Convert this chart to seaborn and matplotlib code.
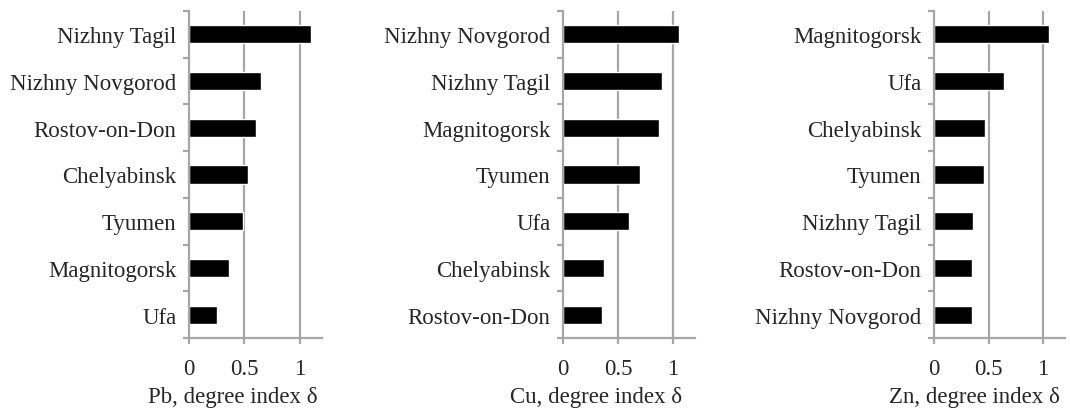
import numpy as np
import pandas as pd
import matplotlib
matplotlib.use("Agg")
import matplotlib.pyplot as plt
import seaborn as sns

# values
pb_cities = ["Nizhny Tagil", "Nizhny Novgorod", "Rostov-on-Don", "Chelyabinsk",
             "Tyumen", "Magnitogorsk", "Ufa"]
pb_values = [1.10, 0.65, 0.60, 0.53, 0.49, 0.36, 0.25]

cu_cities = ["Nizhny Novgorod", "Nizhny Tagil", "Magnitogorsk", "Tyumen",
             "Ufa", "Chelyabinsk", "Rostov-on-Don"]
cu_values = [1.05, 0.90, 0.87, 0.70, 0.60, 0.37, 0.35]

zn_cities = ["Magnitogorsk", "Ufa", "Chelyabinsk", "Tyumen",
             "Nizhny Tagil", "Rostov-on-Don", "Nizhny Novgorod"]
zn_values = [1.05, 0.64, 0.47, 0.46, 0.36, 0.35, 0.35]

x_ticks = [0, 0.5, 1]
x_tick_labels = ["0", "0.5", "1"]
x_labels = ["Pb, degree index δ", "Cu, degree index δ", "Zn, degree index δ"]

sns.set_style("white")
plt.rcParams['font.family'] = ['Liberation Serif', 'DejaVu Serif']

grey = "#a6a6a6"
fs = 16.5

fig = plt.figure(figsize=(10.7, 4.1), dpi=100)
lefts = [189 / 1070, 563 / 1070, 934 / 1070]
widths = [133 / 1070, 132 / 1070, 131 / 1070]
label_x = [0.33, 0.25, 0.31]
bottom = 71 / 410
height = 327 / 410

panels = [(pb_cities, pb_values), (cu_cities, cu_values), (zn_cities, zn_values)]

for i, (cities, values) in enumerate(panels):
    ax = fig.add_axes([lefts[i], bottom, widths[i], height])
    df = pd.DataFrame({"city": cities, "value": values})
    sns.barplot(data=df, x="value", y="city", order=cities, color="black",
                width=0.39, orient="h", ax=ax, saturation=1)
    ax.set_xlim(0, 1.2)
    ax.set_ylim(len(cities) - 0.5, -0.5)

    # vertical gridlines
    for xv in [0.5, 1.0]:
        ax.axvline(xv, color=grey, lw=1.6, zorder=0)

    for s in ["top", "right"]:
        ax.spines[s].set_visible(False)
    for s in ["left", "bottom"]:
        ax.spines[s].set_color(grey)
        ax.spines[s].set_linewidth(1.6)

    ax.set_xticks(x_ticks)
    ax.set_xticklabels(x_tick_labels, fontsize=fs)
    ax.tick_params(axis="x", direction="out", length=4.5, width=1.6,
                   color=grey, pad=10, bottom=True)

    ax.set_yticks(np.arange(len(cities)))
    ax.set_yticklabels(cities, fontsize=fs)
    ax.tick_params(axis="y", which="major", length=0, pad=9, left=True)
    ax.set_yticks(np.arange(-0.5, len(cities), 1), minor=True)
    ax.tick_params(axis="y", which="minor", direction="out", length=4.5,
                   width=1.6, color=grey, left=True)

    ax.set_ylabel("")
    ax.set_xlabel(x_labels[i], fontsize=fs)
    ax.xaxis.set_label_coords(label_x[i], -0.148)

fig.savefig("out.png", dpi=100)
